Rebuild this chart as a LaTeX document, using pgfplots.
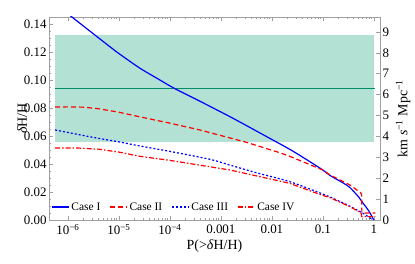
\documentclass[border=0pt]{standalone}
\usepackage{fontspec}
\setmainfont{Liberation Serif}
\usepackage{pgfplots}
\pgfplotsset{compat=1.18}
\definecolor{band}{RGB}{179,225,212}
\definecolor{gline}{RGB}{0,142,105}
\definecolor{frame}{RGB}{160,160,160}
\begin{document}
\begin{tikzpicture}
\path[use as bounding box] (0,0) rectangle (415bp,264bp);
\begin{axis}[
  at={(49bp,44bp)}, anchor=south west,
  scale only axis, width=331bp, height=203bp,
  xmode=log, xmin=4.27e-7, xmax=1.318,
  ymin=0, ymax=0.145,
  axis line style={frame, line width=0.8bp},
  tick style={frame, line width=0.5bp},
  major tick length=4bp, minor tick length=2bp,
  xtick={1e-6,1e-5,1e-4,1e-3,1e-2,1e-1,1},
  xticklabels={10\textsuperscript{−6},10\textsuperscript{−5},10\textsuperscript{−4},0.001,0.01,0.1,1},
  xtick pos=both,
  ytick={0,0.02,0.04,0.06,0.08,0.1,0.12,0.14},
  minor y tick num=3,
  ytick pos=left,
  /pgf/number format/assume math mode=true,
  tick label style={font=\fontsize{13}{15}\selectfont, black},
  xticklabel style={yshift=-1bp},
  yticklabel style={xshift=1bp, /pgf/number format/.cd, fixed, fixed zerofill, precision=2},
  label style={font=\fontsize{14}{16}\selectfont},
  xlabel={P(>\textit{δ}H/H)},
  ylabel={\textit{δ}H/H},
  xlabel style={yshift=2bp},
  ylabel style={yshift=-10bp},
  legend columns=4,
  legend style={at={(0.0,0.064)}, anchor=west, draw=none, fill=none,
    font=\fontsize{11.5}{13}\selectfont, inner xsep=2bp, inner ysep=0pt,
    /tikz/every even column/.append style={column sep=7bp}},
  legend cell align=left,
]
\addplot[fill=band, draw=none, forget plot] coordinates {(5.62e-7,0.0559) (1.0,0.0559) (1.0,0.132) (5.62e-7,0.132)} -- cycle;
\addplot[gline, line width=1.5bp, forget plot] coordinates {(5.62e-7,0.0938) (1.04,0.0938)};
\addplot[blue, line width=1.2bp, smooth, tension=0.4] coordinates {
(1e-6,0.1475) (1.202e-6,0.145) (3.162e-6,0.133) (9.12e-6,0.120) (2.57e-5,0.1085)
(6.31e-5,0.1001) (1.259e-4,0.0938) (5.01e-4,0.0828) (1.738e-3,0.0726) (6.31e-3,0.0615)
(0.02239,0.0505) (0.0501,0.0427) (0.1,0.0357) (0.138,0.0318) (0.251,0.0264)
(0.339,0.0232) (0.501,0.0165) (0.617,0.0119) (0.794,0.0065) (1,0)};
\addlegendentry{Case I}
\addplot[red, line width=1.2bp, dash pattern=on 5bp off 3bp] coordinates {
(5.62e-7,0.0807) (1e-6,0.0808) (2.0e-6,0.0806) (3.98e-6,0.0795) (1e-5,0.0770)
(2.57e-5,0.0737) (9.12e-5,0.0695) (3.89e-4,0.0643) (3.162e-3,0.0555) (0.01445,0.048)
(0.02239,0.0455) (0.1,0.0357) (0.138,0.0322) (0.339,0.025) (0.55,0.0195)
(0.575,0.018) (0.582,0.005) (1.07,0.005)};
\addlegendentry{Case II}
\addplot[blue, line width=1.2bp, dash pattern=on 2bp off 2bp, smooth, tension=0.4] coordinates {
(5.62e-7,0.0643) (3.162e-6,0.059) (1e-5,0.0558) (2.57e-5,0.0529) (1e-4,0.0490)
(6.03e-4,0.0434) (1.514e-3,0.0392) (5.01e-3,0.0337) (0.02239,0.0274) (0.1,0.0185)
(0.138,0.0165) (0.339,0.0098) (0.631,0.0045) (0.955,0)};
\addlegendentry{Case III}
\addplot[red, line width=1.2bp, dash pattern=on 5bp off 2bp on 1.5bp off 2bp] coordinates {
(5.62e-7,0.0514) (1.585e-6,0.0514) (3.98e-6,0.0506) (1e-5,0.0485) (2.57e-5,0.0455)
(1e-4,0.0426) (1.514e-3,0.0357) (0.02239,0.0262) (0.1,0.0175) (0.138,0.0160)
(0.339,0.0095) (0.537,0.0055) (0.569,0.0045) (0.575,0.0024) (1.07,0.0024)};
\addlegendentry{Case IV}
\end{axis}
\begin{axis}[
  at={(49bp,44bp)}, anchor=south west,
  scale only axis, width=331bp, height=203bp,
  xmode=log, xmin=4.27e-7, xmax=1.318,
  ymin=0, ymax=9.715,
  hide x axis,
  axis y line*=right,
  axis line style={frame, line width=0.8bp},
  tick style={frame, line width=0.5bp},
  major tick length=4bp,
  ytick={0,1,2,3,4,5,6,7,8,9},
  /pgf/number format/assume math mode=true,
  tick label style={font=\fontsize{13}{15}\selectfont, black},
  yticklabel style={xshift=-1bp},
  label style={font=\fontsize{14}{16}\selectfont},
  ylabel={km \textit{s}\textsuperscript{−1} Mpc\textsuperscript{−1}},
  ylabel style={yshift=0bp},
]
\end{axis}
\end{tikzpicture}
\end{document}
